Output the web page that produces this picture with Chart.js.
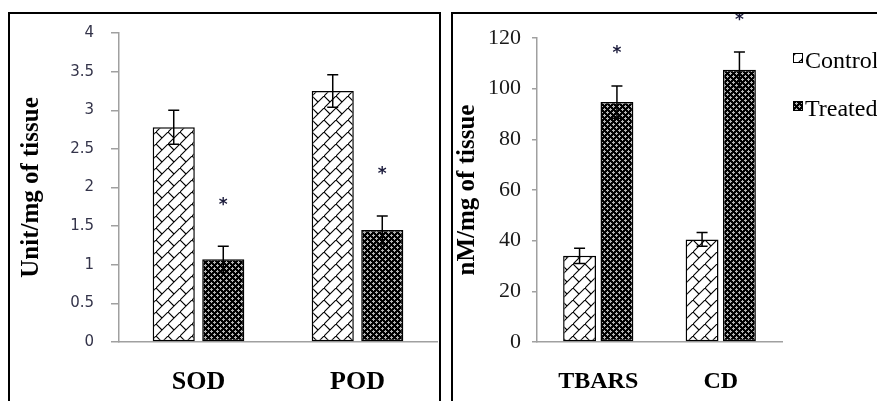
<!DOCTYPE html>
<html>
<head>
<meta charset="utf-8">
<script src="https://cdn.jsdelivr.net/npm/chart.js@4.4.1/dist/chart.umd.min.js"></script>
<style>
  html, body { margin: 0; padding: 0; background: #fff; overflow: hidden; }
  body { width: 877px; height: 401px; position: relative; }
  canvas { position: absolute; top: 0; }
  #leftChart { left: 0; }
  #rightChart { left: 441px; }
  .frame { position: absolute; border: 2px solid #000; pointer-events: none; box-sizing: border-box; }
  #leftFrame { left: 8px; top: 12px; width: 433px; height: 420px; }
  #rightFrame { left: 451px; top: 12px; width: 460px; height: 420px; }
</style>
</head>
<body>
<canvas id="leftChart" width="441" height="401"></canvas>
<canvas id="rightChart" width="436" height="401"></canvas>
<div class="frame" id="leftFrame"></div>
<div class="frame" id="rightFrame"></div>
<script>
// left panel: antioxidant enzymes
var enzymeLabels = ['SOD', 'POD'];
var enzymeControl = [2.78, 3.25];
var enzymeControlErr = [0.22, 0.21];
var enzymeTreated = [1.07, 1.45];
var enzymeTreatedErr = [0.17, 0.18];
var enzymeStars = [1.8, 2.2];
var enzymeTicks = [0, 0.5, 1, 1.5, 2, 2.5, 3, 3.5, 4];

// right panel: lipid peroxidation
var lipidLabels = ['TBARS', 'CD'];
var lipidControl = [34, 40.5];
var lipidControlErr = [3, 2.7];
var lipidTreated = [94.7, 107.5];
var lipidTreatedErr = [6.4, 7];
var lipidStars = [115, 128];
var lipidTicks = [0, 20, 40, 60, 80, 100, 120];

var seriesNames = ['Control', 'Treated'];

function makeBrickPattern() {
    var c = document.createElement('canvas');
    c.width = 12;
    c.height = 12;
    var g = c.getContext('2d');
    g.fillStyle = '#fff';
    g.fillRect(0, 0, 12, 12);
    g.strokeStyle = '#000';
    g.lineWidth = 1.1;
    g.beginPath();
    g.moveTo(-1, 13);
    g.lineTo(13, -1);
    g.moveTo(0, 0);
    g.lineTo(6, 6);
    g.stroke();
    return g.createPattern(c, 'repeat');
}

function makeDotPattern() {
    var c = document.createElement('canvas');
    c.width = 6;
    c.height = 6;
    var g = c.getContext('2d');
    g.fillStyle = '#000';
    g.fillRect(0, 0, 6, 6);
    g.fillStyle = '#b4b4b4';
    [[1, 0], [0, 1], [1, 1], [2, 1], [1, 2], [4, 3], [3, 4], [4, 4], [5, 4], [4, 5]].forEach(function (p) {
        g.fillRect(p[0], p[1], 1, 1);
    });
    return g.createPattern(c, 'repeat');
}

var brick = makeBrickPattern();
var dots = makeDotPattern();

// error bars and significance stars, placed through the chart scales
var errorBarPlugin = {
    id: 'errorBars',
    afterDatasetsDraw: function (chart) {
        var ctx = chart.ctx;
        var yScale = chart.scales.y;
        ctx.save();
        chart.data.datasets.forEach(function (ds, i) {
            var meta = chart.getDatasetMeta(i);
            meta.data.forEach(function (bar, j) {
                var v = ds.data[j];
                var e = ds.errors[j];
                var yTop = yScale.getPixelForValue(v + e);
                var yBot = yScale.getPixelForValue(v - e);
                ctx.strokeStyle = '#000';
                ctx.lineWidth = 1.5;
                ctx.beginPath();
                ctx.moveTo(bar.x, yTop);
                ctx.lineTo(bar.x, yBot);
                ctx.moveTo(bar.x - 5.5, yTop);
                ctx.lineTo(bar.x + 5.5, yTop);
                ctx.moveTo(bar.x - 5.5, yBot);
                ctx.lineTo(bar.x + 5.5, yBot);
                ctx.stroke();
                if (ds.stars && ds.stars[j] != null) {
                    ctx.fillStyle = '#1c1c3c';
                    ctx.font = 'bold 17px "DejaVu Sans"';
                    ctx.textAlign = 'center';
                    ctx.textBaseline = 'middle';
                    ctx.fillText('*', bar.x, yScale.getPixelForValue(ds.stars[j]) + 3);
                }
            });
        });
        ctx.restore();
    }
};

var sideLegendPlugin = {
    id: 'sideLegend',
    afterDraw: function (chart) {
        var ctx = chart.ctx;
        var area = chart.chartArea;
        var x = area.right + 11;
        ctx.save();
        chart.data.datasets.forEach(function (ds, i) {
            var top = area.top + 15 + i * 48;
            ctx.fillStyle = ds.backgroundColor;
            ctx.fillRect(x, top, 9, 9);
            ctx.strokeStyle = '#000';
            ctx.lineWidth = 1;
            ctx.strokeRect(x + 0.5, top + 0.5, 9, 9);
            ctx.fillStyle = '#000';
            ctx.font = '24px "Liberation Serif"';
            ctx.textAlign = 'left';
            ctx.textBaseline = 'alphabetic';
            ctx.fillText(ds.label, x + 12, top + 15);
        });
        ctx.restore();
    }
};

function buildOptions(cfg) {
    return {
        responsive: false,
        animation: false,
        devicePixelRatio: 1,
        layout: { padding: cfg.padding },
        plugins: { legend: { display: false }, tooltip: { enabled: false } },
        scales: {
            x: {
                grid: { display: false, drawTicks: false },
                border: { display: true, color: '#a0a0a0', width: 1.5 },
                ticks: {
                    color: '#000',
                    padding: cfg.xPad,
                    font: { family: 'Liberation Serif', size: cfg.xFont, weight: 'bold' }
                },
                afterFit: function (scale) { scale.height = 59; }
            },
            y: {
                min: cfg.ticks[0],
                max: cfg.ticks[cfg.ticks.length - 1],
                afterBuildTicks: function (scale) {
                    scale.ticks = cfg.ticks.map(function (t) { return { value: t }; });
                },
                grid: { display: true, drawOnChartArea: false, tickLength: cfg.tickLen, color: '#a0a0a0', lineWidth: 1.5 },
                border: { display: true, color: '#a0a0a0', width: 1.5 },
                ticks: {
                    color: cfg.tickColor,
                    padding: cfg.yPad,
                    font: cfg.yFont,
                    callback: function (value) { return String(value); }
                },
                title: {
                    display: true,
                    text: cfg.title,
                    color: '#000',
                    padding: 0,
                    font: { family: 'Liberation Serif', size: cfg.titleSize, weight: 'bold' }
                },
                afterFit: function (scale) { scale.width = cfg.yWidth; }
            }
        }
    };
}

function buildData(labels, ctrl, ctrlErr, trt, trtErr, stars, catPct, barPct) {
    return {
        labels: labels,
        datasets: [{
            label: seriesNames[0],
            data: ctrl,
            errors: ctrlErr,
            backgroundColor: brick,
            borderColor: '#000',
            borderWidth: 1.5,
            borderSkipped: false,
            categoryPercentage: catPct,
            barPercentage: barPct
        }, {
            label: seriesNames[1],
            data: trt,
            errors: trtErr,
            stars: stars,
            backgroundColor: dots,
            borderColor: '#000',
            borderWidth: 1.5,
            borderSkipped: false,
            categoryPercentage: catPct,
            barPercentage: barPct
        }]
    };
}

new Chart(document.getElementById('leftChart'), {
    type: 'bar',
    data: buildData(enzymeLabels, enzymeControl, enzymeControlErr, enzymeTreated, enzymeTreatedErr, enzymeStars, 0.623, 0.85),
    options: buildOptions({
        padding: { left: 17, top: 33, right: 4, bottom: 0 },
        ticks: enzymeTicks,
        tickLen: 8,
        tickColor: '#34344a',
        yPad: 17,
        yFont: { family: 'DejaVu Sans', size: 15 },
        yWidth: 102,
        xPad: 25,
        xFont: 26,
        title: 'Unit/mg of tissue',
        titleSize: 25
    }),
    plugins: [errorBarPlugin]
});

new Chart(document.getElementById('rightChart'), {
    type: 'bar',
    data: buildData(lipidLabels, lipidControl, lipidControlErr, lipidTreated, lipidTreatedErr, lipidStars, 0.61, 0.88),
    options: buildOptions({
        padding: { left: 12, top: 38, right: 95, bottom: 0 },
        ticks: lipidTicks,
        tickLen: 5,
        tickColor: '#1a1a1a',
        yPad: 11,
        yFont: { family: 'Liberation Serif', size: 22 },
        yWidth: 84,
        xPad: 25,
        xFont: 24,
        title: 'nM/mg of tissue',
        titleSize: 25
    }),
    plugins: [errorBarPlugin, sideLegendPlugin]
});
</script>
</body>
</html>
